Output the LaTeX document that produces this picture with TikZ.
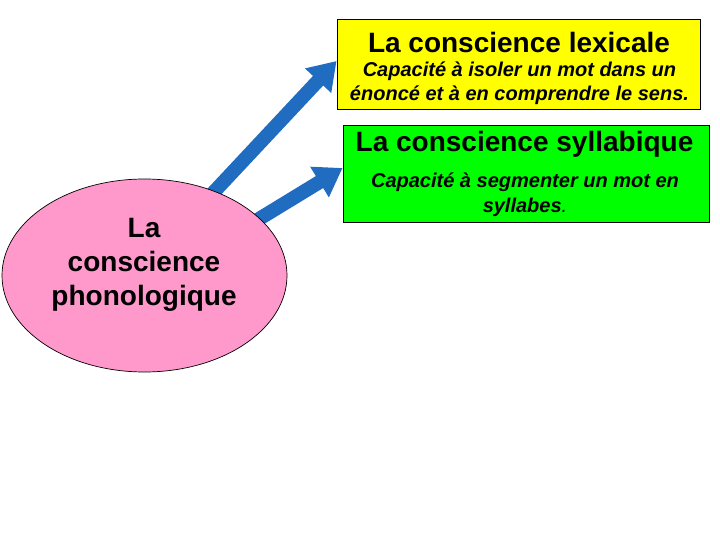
\documentclass[tikz,border=0pt]{standalone}
\usepackage{fontspec}
\setmainfont{Liberation Sans}
\usepackage{xcolor}
\usetikzlibrary{shapes.geometric,arrows.meta}

\definecolor{rose}{HTML}{FF99CC}
\definecolor{jaune}{HTML}{FFFF00}
\definecolor{vert}{HTML}{00FF00}
\definecolor{bleu}{HTML}{1F6CC0}

\tikzset{
  cadre/.style={draw=black, line width=0.9pt, inner sep=0pt},
  titre/.style={font=\fontsize{28}{32}\selectfont\bfseries, inner sep=0pt},
  definition/.style={font=\fontsize{20}{24}\selectfont\bfseries\itshape, align=center, inner sep=0pt},
  fleche/.style={line width=14pt, color=bleu, -{Triangle[length=27pt,width=34pt]}}
}

\begin{document}
\begin{tikzpicture}[x=1pt, y=-1pt]
                \useasboundingbox (0, 0) rectangle (720, 540);

                % cadres de droite
                \node[cadre, fill=jaune, minimum width=363pt, minimum height=90pt] (lexicale) at (518.5, 64) {};
                \node[titre] (lexTitre) at (519, 42) {La conscience lexicale};
                \node[definition] (lexDef) at (519.5, 83) {Capacité à isoler un mot dans un\\énoncé et à en comprendre le sens.};

                \node[cadre, fill=vert, minimum width=366pt, minimum height=97pt] (syllabique) at (526, 173.5) {};
                \node[titre] (sylTitre) at (524.5, 144) {La conscience syllabique};
                \node[definition, font=\fontsize{20}{25}\selectfont\bfseries\itshape] (sylDef) at (525, 194.5) {Capacité à segmenter un mot en\\syllabes{\mdseries.}};

                % fleches
                \coordinate (depLex) at (198, 209);
                \coordinate (depSyl) at (236, 233);
                \draw[fleche] (depLex) -- (lexicale.west |- 0, 61);
                \draw[fleche] (depSyl) -- (syllabique.west |- 0, 168);

                % ellipse
                \node[ellipse, draw=black, line width=0.7pt, fill=rose, minimum width=285pt, minimum height=193pt, inner sep=0pt] (phono) at (144.5, 275.5) {};
                \node[titre, align=center, font=\fontsize{28}{34}\selectfont\bfseries] (phonoTexte) at (144, 265) {La\\conscience\\phonologique};
\end{tikzpicture}
\end{document}
